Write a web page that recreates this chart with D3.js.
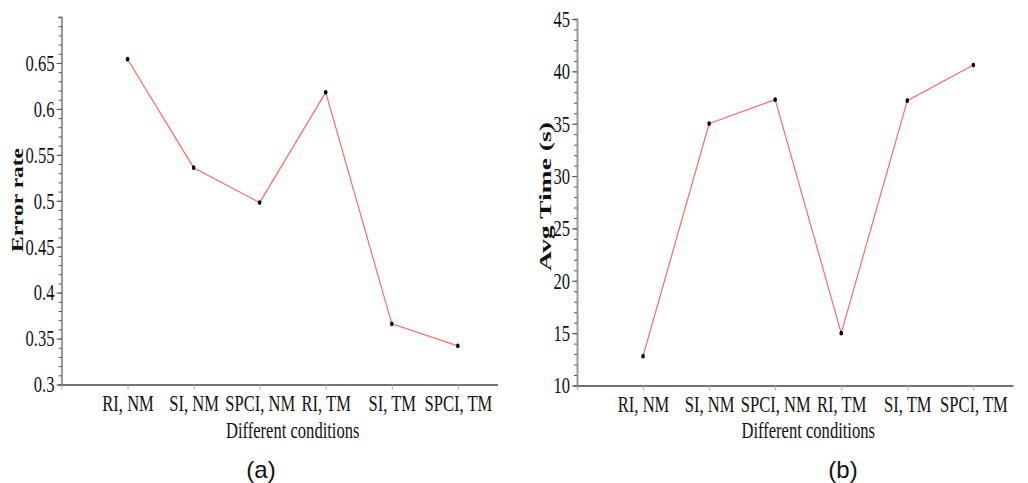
<!DOCTYPE html>
<meta charset="utf-8">
<style>
  body { margin: 0; background: #fff; }
  .tick text { font-family: "Liberation Serif", "Times New Roman", serif; font-size: 23px; fill: #111; }
  .axis-title { font-family: "Liberation Serif", serif; font-size: 23px; fill: #111; }
  .y-title { font-family: "Liberation Serif", serif; font-size: 17px; font-weight: bold; fill: #111; }
  .caption { font-family: "Liberation Sans", Arial, sans-serif; font-size: 24px; fill: #111; }
</style>
<body>
<svg width="1028" height="483"></svg>

<script src="https://cdn.jsdelivr.net/npm/d3@7"></script>
<script>

// Data
var conditions = ["RI, NM", "SI, NM", "SPCI, NM", "RI, TM", "SI, TM", "SPCI, TM"];
var errorRate = [0.654, 0.536, 0.498, 0.618, 0.366, 0.342];
var avgTime = [12.8, 35.0, 37.3, 15.0, 37.2, 40.6];
var errorTicks = [0.3, 0.35, 0.4, 0.45, 0.5, 0.55, 0.6, 0.65];
var timeTicks = [10, 15, 20, 25, 30, 35, 40, 45];

var squeeze = 0.72;
var svg = d3.select("svg");

function drawPanel(p) {

    var g = svg.append("g");

    var x = d3.scaleLinear().domain([0, 6.6]).range([p.left, p.left + 436]);
    var y = d3.scaleLinear().domain(p.domain).range([p.bottom, p.top]);

    // minor ticks on the y axis
    var minor = d3.range(p.domain[0], p.domain[1] + p.minorStep / 2, p.minorStep);
    g.append("g")
	.attr("transform", "translate(" + p.left + ",0)")
	.call(d3.axisLeft(y).tickValues(minor).tickSize(3).tickFormat(""))
	.call(function(a) {
	    a.select(".domain").attr("stroke", "#999").attr("stroke-width", 2);
	    a.selectAll(".tick line").attr("stroke", "#555");
	});

    // major ticks with labels
    g.append("g")
	.attr("transform", "translate(" + p.left + ",0)")
	.call(d3.axisLeft(y).tickValues(p.ticks).tickSize(5).tickPadding(3).tickFormat(d3.format("")))
	.call(function(a) {
	    a.select(".domain").remove();
	    a.selectAll(".tick line").attr("stroke", "#555");
	    a.selectAll(".tick text")
		.attr("x", -7 / squeeze)
		.attr("transform", "scale(" + squeeze + ",1)");
	});

    // x axis
    g.append("g")
	.attr("transform", "translate(0," + p.bottom + ")")
	.call(d3.axisBottom(x).tickValues(d3.range(0, 7)).tickSize(5).tickSizeOuter(0)
	      .tickFormat(function(d) { return d === 0 ? "" : conditions[d - 1]; }))
	.call(function(a) {
	    a.select(".domain").attr("stroke", "#444").attr("stroke-width", 1.5);
	    a.selectAll(".tick line").attr("stroke", "#aaa");
	    a.selectAll(".tick text")
		.attr("y", 27).attr("dy", 0)
		.attr("transform", "scale(" + squeeze + ",1)");
	});

    g.append("text")
	.attr("class", "axis-title")
	.attr("text-anchor", "middle")
	.attr("transform", "translate(" + (x(3.5)) + ",438) scale(" + squeeze + ",1)")
	.text("Different conditions");

    g.append("text")
	.attr("class", "y-title")
	.attr("text-anchor", "middle")
	.attr("textLength", p.titleLen)
	.attr("lengthAdjust", "spacingAndGlyphs")
	.attr("transform", "translate(" + p.titleX + "," + p.titleY + ") rotate(-90)")
	.text(p.title);

    g.append("text")
	.attr("class", "caption")
	.attr("text-anchor", "middle")
	.attr("x", p.captionX)
	.attr("y", 478)
	.text(p.caption);

    var line = d3.line()
	.x(function(d, i) { return x(i + 1); })
	.y(function(d) { return y(d); });

    g.append("path")
	.datum(p.values)
	.attr("fill", "none")
	.attr("stroke", "#ff6b6b")
	.attr("stroke-width", 1.2)
	.attr("d", line);

    g.selectAll(".pt")
	.data(p.values)
	.enter().append("ellipse")
	.attr("class", "pt")
	.attr("cx", function(d, i) { return x(i + 1); })
	.attr("cy", function(d) { return y(d); })
	.attr("rx", 1.8)
	.attr("ry", 2.4)
	.attr("fill", "#000");
}

drawPanel({
    left: 61.5, top: 17, bottom: 384.5,
    domain: [0.3, 0.7], ticks: errorTicks, minorStep: 0.01,
    values: errorRate,
    title: "Error rate", titleX: 23, titleY: 200, titleLen: 104,
    caption: "(a)", captionX: 261
});

drawPanel({
    left: 577, top: 19, bottom: 385.5,
    domain: [10, 45], ticks: timeTicks, minorStep: 1,
    values: avgTime,
    title: "Avg Time (s)", titleX: 551, titleY: 196.5, titleLen: 149,
    caption: "(b)", captionX: 843
});

</script>
</body>
